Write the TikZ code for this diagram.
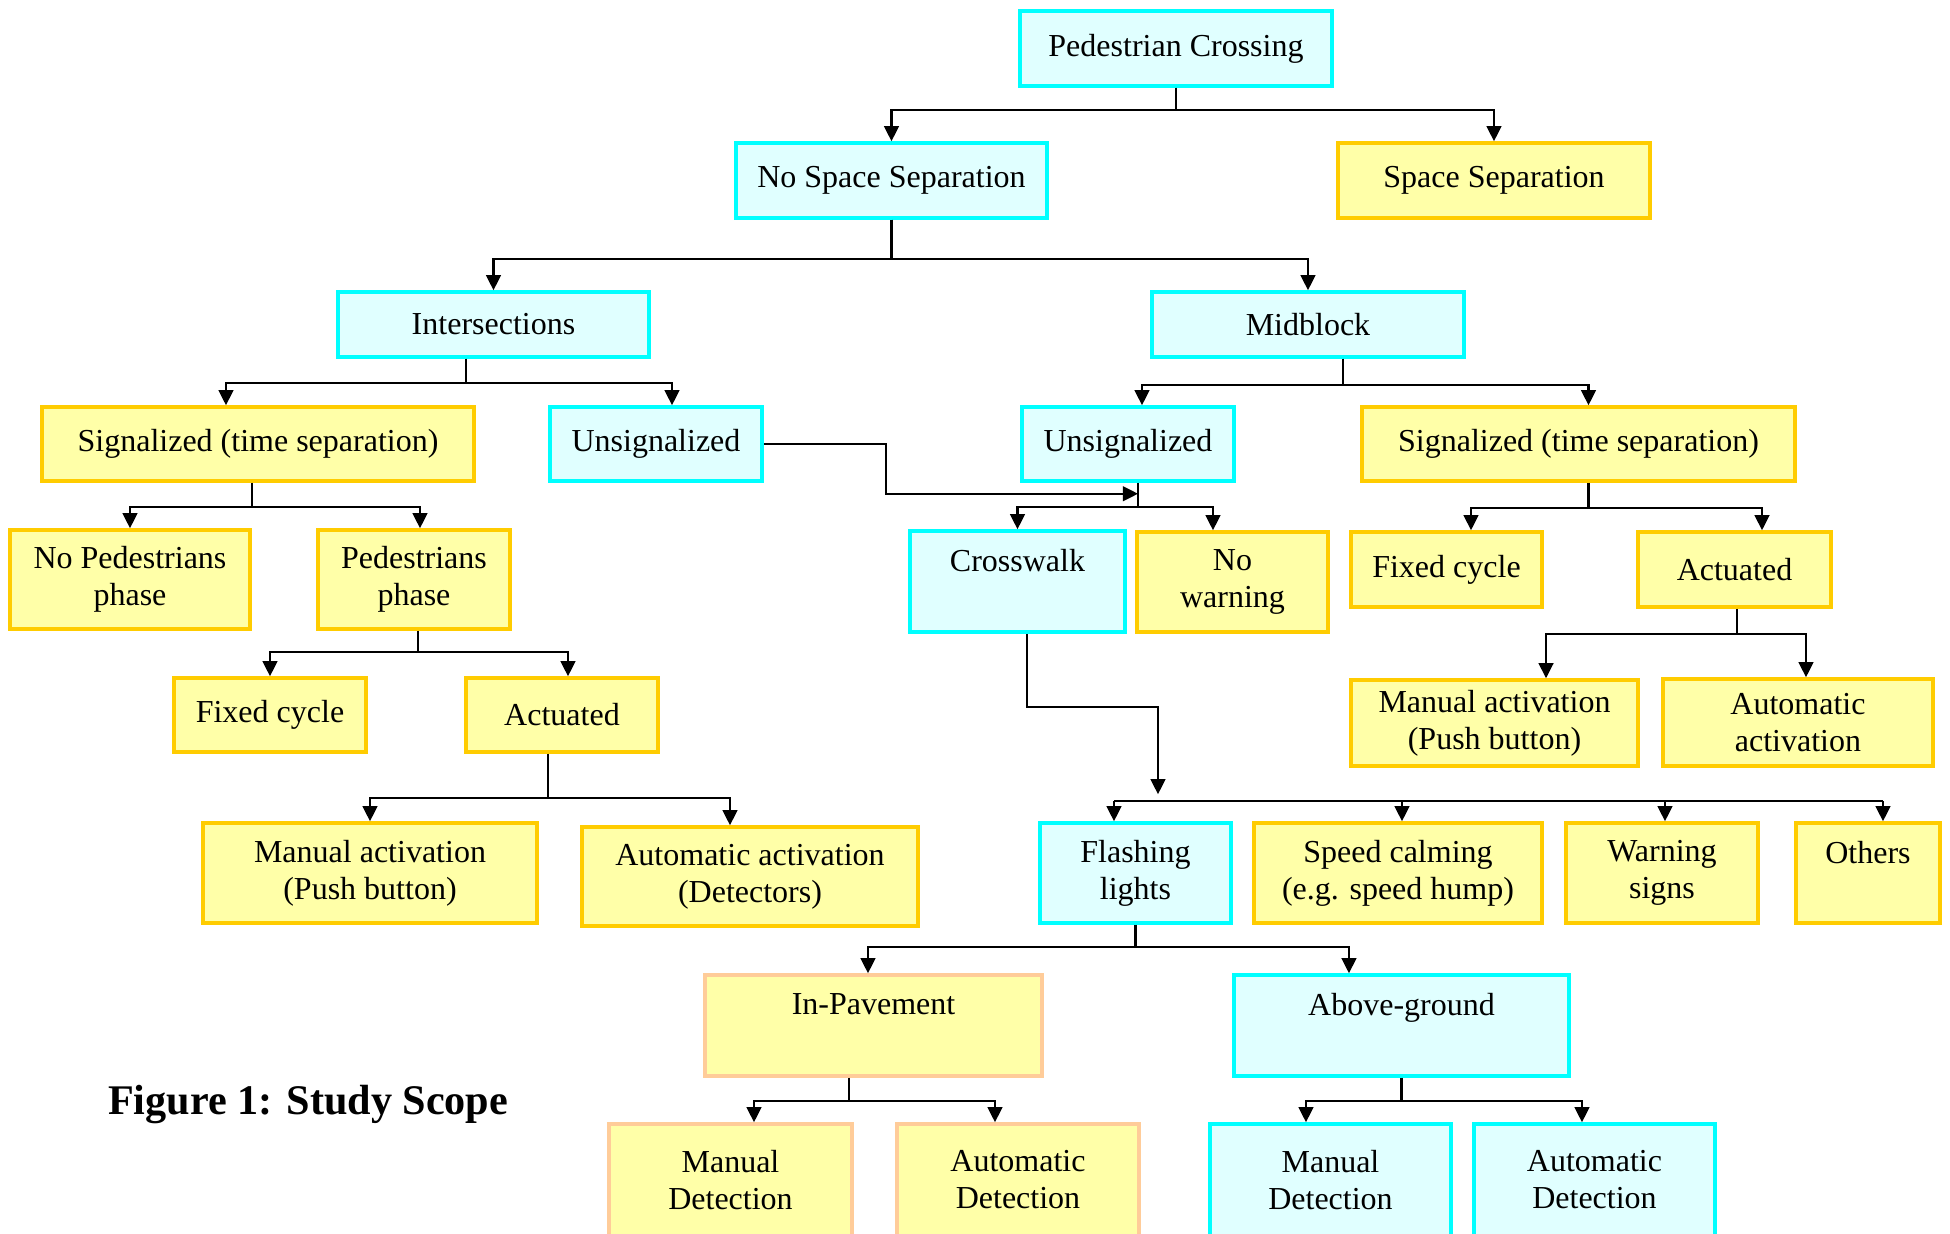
\documentclass[tikz,border=0pt]{standalone}
\usepackage{fontspec}
\setmainfont{Liberation Serif}
\usetikzlibrary{arrows.meta, calc}
\definecolor{boxcyan}{HTML}{00FFFF}
\definecolor{fillcyan}{HTML}{E0FFFF}
\definecolor{boxgold}{HTML}{FFCC00}
\definecolor{fillyellow}{HTML}{FFFFA8}
\definecolor{boxpeach}{HTML}{FFCC99}

\begin{document}
\begin{tikzpicture}[x=0.01cm, y=-0.01cm, >={Triangle[length=4.3pt,width=4.2pt]},
  font=\fontsize{9.1}{10.5}\selectfont, line width=0.6pt,
  wh/.style 2 args={minimum width=#1*0.01cm, minimum height=#2*0.01cm},
  basebox/.style={draw, line width=1pt, align=center, inner sep=1pt},
  cbox/.style={basebox, draw=boxcyan, fill=fillcyan},
  ybox/.style={basebox, draw=boxgold, fill=fillyellow},
  pbox/.style={basebox, draw=boxpeach, fill=fillyellow},
  toptext/.style={anchor=north, inner sep=0pt, yshift=-0.19cm}]
  \useasboundingbox (0,0) rectangle (1950,1234);
  \clip (0,0) rectangle (1950,1234);

  % levels 1-3
  \node[cbox, wh={312}{75}] (pc) at (1176,48.5) {Pedestrian Crossing};
  \node[cbox, wh={311}{75}] (nss) at (891.5,180.5) {No Space Separation};
  \node[ybox, wh={312}{75}] (ss) at (1494,180.5) {Space Separation};
  \node[cbox, wh={311}{65}] (inter) at (493.5,324.5) {Intersections};
  \node[cbox, wh={312}{65}] (mid) at (1308,324.5) {Midblock};

  % signal control
  \node[ybox, wh={432}{74}] (sigL) at (258,444) {Signalized (time separation)};
  \node[cbox, wh={212}{74}] (unsL) at (656,444) {Unsignalized};
  \node[cbox, wh={212}{74}] (unsR) at (1128,444) {Unsignalized};
  \node[ybox, wh={433}{74}] (sigR) at (1578.5,444) {Signalized (time separation)};

  \node[ybox, wh={240}{99}] (noped) at (130,579.5) {No Pedestrians\\phase};
  \node[ybox, wh={192}{99}] (pedph) at (414,579.5) {Pedestrians\\phase};
  \node[cbox, wh={215}{101}, label={[toptext]north:Crosswalk}] (cw) at (1017.5,581.5) {};
  \node[ybox, wh={191}{100}] (nowarn) at (1232.5,582) {No\\warning};
  \node[ybox, wh={191}{75}] (fixR) at (1446.5,569.5) {Fixed cycle};
  \node[ybox, wh={193}{75}] (actR) at (1734.5,569.5) {Actuated};

  \node[ybox, wh={192}{74}] (fixL) at (270,715) {Fixed cycle};
  \node[ybox, wh={192}{74}] (actL) at (562,715) {Actuated};
  \node[ybox, wh={287}{86}] (manR) at (1494.5,723) {Manual activation\\(Push button)};
  \node[ybox, wh={270}{87}] (autoR) at (1798,722.5) {Automatic\\activation};

  \node[ybox, wh={334}{100}] (manL) at (370,873) {Manual activation\\(Push button)};
  \node[ybox, wh={336}{99}] (autoL) at (750,876.5) {Automatic activation\\(Detectors)};
  \node[cbox, wh={191}{100}] (flash) at (1135.5,873) {Flashing\\lights};
  \node[ybox, wh={288}{100}] (speed) at (1398,873) {Speed calming\\(e.g. speed hump)};
  \node[ybox, wh={192}{100}] (warn) at (1662,873) {Warning\\signs};
  \node[ybox, wh={144}{100}, label={[toptext]north:Others}] (others) at (1868,873) {};

  % detection
  \node[pbox, wh={337}{101}, label={[toptext]north:In-Pavement}] (inpav) at (873.5,1025.5) {};
  \node[cbox, wh={335}{101}, label={[toptext]north:Above-ground}] (abv) at (1401.5,1025.5) {};
  \node[pbox, wh={243}{112}] (manD1) at (730.5,1180) {Manual\\Detection};
  \node[pbox, wh={242}{112}] (autoD1) at (1018,1180) {Automatic\\Detection};
  \node[cbox, wh={241}{112}] (manD2) at (1330.5,1180) {Manual\\Detection};
  \node[cbox, wh={241}{112}] (autoD2) at (1594.5,1180) {Automatic\\Detection};

  \node[anchor=base west, inner sep=0pt, font=\fontsize{12}{14}\selectfont\bfseries] (cap) at (107,1115) {Figure 1: Study Scope};

  % connectors
  \draw[->] (pc.south) -- ++(0,22) -| (nss.north);
  \draw[->] (pc.south) -- ++(0,22) -| (ss.north);
  \draw[->] (nss.south) -- ++(0,39) -| (inter.north);
  \draw[->] (nss.south) -- ++(0,39) -| (mid.north);

  \draw[->] ([xshift=-2.75mm]inter.south) -- ++(0,24) -| ([xshift=-3.2mm]sigL.north);
  \draw[->] ([xshift=-2.75mm]inter.south) -- ++(0,24) -| ([xshift=1.6mm]unsL.north);
  \draw[->] ([xshift=3.5mm]mid.south) -- ++(0,26) -| ([xshift=1.4mm]unsR.north);
  \draw[->] ([xshift=3.5mm]mid.south) -- ++(0,26) -| ([xshift=1mm]sigR.north);

  \draw[->] ([xshift=-0.6mm]sigL.south) -- ++(0,24) -| (noped.north);
  \draw[->] ([xshift=-0.6mm]sigL.south) -- ++(0,24) -| ([xshift=0.6mm]pedph.north);

  \coordinate (uj) at ($(unsR.south)+(10,11)$);
  \draw[->] ([xshift=1mm]unsR.south) -- ++(0,24) -| (cw.north);
  \draw[->] ([xshift=1mm]unsR.south) -- ++(0,24) -| ([xshift=-1.95mm]nowarn.north);
  \draw[->] (unsL.east) -- ++(122,0) |- (uj);

  \draw[->] ([xshift=1mm]sigR.south) -- ++(0,25) -| ([xshift=2.45mm]fixR.north);
  \draw[->] ([xshift=1mm]sigR.south) -- ++(0,25) -| ([xshift=2.75mm]actR.north);

  \draw[->] ([xshift=0.4mm]pedph.south) -- ++(0,21) -| (fixL.north);
  \draw[->] ([xshift=0.4mm]pedph.south) -- ++(0,21) -| ([xshift=0.6mm]actL.north);
  \draw[->] ([xshift=-1.4mm]actL.south) -- ++(0,44) -| (manL.north);
  \draw[->] ([xshift=-1.4mm]actL.south) -- ++(0,44) -| ([xshift=-2mm]autoL.north);

  \draw[->] ([xshift=0.25mm]actR.south) -- ++(0,25) -| ([xshift=5.15mm]manR.north);
  \draw[->] ([xshift=0.25mm]actR.south) -- ++(0,25) -| ([xshift=0.8mm]autoR.north);

  % crosswalk to the bus line
  \coordinate (fb) at ($(flash.north)+(22.5,-27)$);
  \draw[->] ([xshift=0.95mm]cw.south) -- ++(0,73) -| (fb);
  \draw ($(flash.north)+(-21.5,-20)$) -- ($(others.north)+(15,-20)$);
  \foreach \n/\dx in {flash/-21.5, speed/4, warn/3, others/15}
    \draw[->] ($(\n.north)+(\dx,-20)$) -- ($(\n.north)+(\dx,0)$);

  \draw[->] (flash.south) -- ++(0,22) -| ([xshift=-0.55mm]inpav.north);
  \draw[->] (flash.south) -- ++(0,22) -| ([xshift=-5.25mm]abv.north);
  \draw[->] ([xshift=-2.45mm]inpav.south) -- ++(0,23) -| ([xshift=2.35mm]manD1.north);
  \draw[->] ([xshift=-2.45mm]inpav.south) -- ++(0,23) -| ([xshift=-2.3mm]autoD1.north);
  \draw[->] (abv.south) -- ++(0,23) -| ([xshift=-2.45mm]manD2.north);
  \draw[->] (abv.south) -- ++(0,23) -| ([xshift=-1.25mm]autoD2.north);
\end{tikzpicture}
\end{document}
